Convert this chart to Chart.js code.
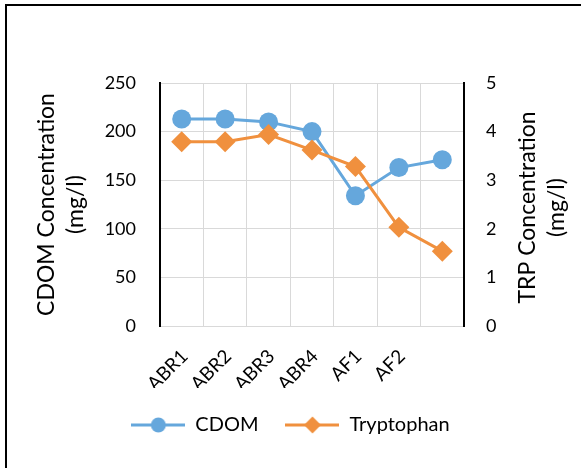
<!DOCTYPE html>
<html>
<head>
<meta charset="utf-8">
<script src="https://cdn.jsdelivr.net/npm/chart.js@4"></script>
<style>
  html, body { margin: 0; padding: 0; background: #fff; }
  #wrap { position: relative; width: 581px; height: 468px; }
  #frame { position: absolute; left: 5px; top: 4px; right: 0; bottom: 0; border-top: 2px solid #000; border-left: 2px solid #000; pointer-events: none; }
</style>
</head>
<body>
<div id="wrap">
  <canvas id="chart" width="581" height="468"></canvas>
  <div id="frame"></div>
</div>
<script>
var sites = ['ABR1', 'ABR2', 'ABR3', 'ABR4', 'AF1', 'AF2', ''];
var cdom = [213, 213, 210, 200, 134, 163, 171];
var tryptophan = [3.79, 3.79, 3.94, 3.62, 3.28, 2.03, 1.54];
var cdomTicks = [0, 50, 100, 150, 200, 250];
var trpTicks = [0, 1, 2, 3, 4, 5];
var cdomTitle = ['CDOM Concentration', '(mg/l)'];
var trpTitle = ['TRP Concentration', '(mg/l)'];

var BLUE = '#65A7DC';
var ORANGE = '#F0903E';
var GRID = '#d9d9d9';
var FONT = 'Lato';

// line + marker swatch for the legend
function legendSymbol(color, style) {
    var c = document.createElement('canvas');
    c.width = 54; c.height = 20;
    var g = c.getContext('2d');
    g.strokeStyle = color; g.lineWidth = 3;
    g.beginPath(); g.moveTo(0, 10); g.lineTo(54, 10); g.stroke();
    g.fillStyle = color;
    g.beginPath();
    if (style === 'circle') {
        g.arc(27, 10, 7.5, 0, Math.PI * 2);
    } else {
        g.moveTo(18.5, 10); g.lineTo(27, 1.5); g.lineTo(35.5, 10); g.lineTo(27, 18.5); g.closePath();
    }
    g.fill();
    return c;
}
var swatches = [legendSymbol(BLUE, 'circle'), legendSymbol(ORANGE, 'diamond')];

// right axis title reads bottom-to-top like the left one
var rightTitle = {
    id: 'rightTitle',
    afterDraw: function (chart) {
        var s = chart.scales.y1, ctx = chart.ctx;
        ctx.save();
        ctx.font = '23px ' + FONT;
        ctx.fillStyle = '#000';
        ctx.textAlign = 'center';
        ctx.textBaseline = 'middle';
        ctx.translate(s.left + 64, (s.top + s.bottom) / 2 + 3);
        ctx.rotate(-Math.PI / 2);
        ctx.fillText(trpTitle[0], 0, 0);
        ctx.fillText(trpTitle[1], 0, 29);
        ctx.restore();
    }
};

new Chart(document.getElementById('chart'), {
    type: 'line',
    data: {
        labels: sites,
        datasets: [{
            label: 'CDOM',
            data: cdom,
            yAxisID: 'y',
            order: 1,
            borderColor: BLUE,
            backgroundColor: BLUE,
            borderWidth: 3,
            pointStyle: 'circle',
            pointRadius: 9.5,
            pointBorderWidth: 0,
            pointBackgroundColor: BLUE
        }, {
            label: 'Tryptophan',
            data: tryptophan,
            yAxisID: 'y1',
            order: 0,
            borderColor: ORANGE,
            backgroundColor: ORANGE,
            borderWidth: 3,
            pointStyle: 'rectRot',
            pointRadius: 10.5,
            pointBorderWidth: 0,
            pointBackgroundColor: ORANGE
        }]
    },
    options: {
        responsive: false,
        animation: false,
        layout: { padding: { left: 0, right: 0, top: 83, bottom: 23 } },
        plugins: {
            tooltip: { enabled: false },
            legend: {
                position: 'bottom',
                labels: {
                    usePointStyle: true,
                    pointStyleWidth: 54,
                    padding: 27,
                    color: '#000',
                    font: { family: FONT, size: 20 },
                    sort: function (a, b) { return a.datasetIndex - b.datasetIndex; },
                    generateLabels: function (chart) {
                        var items = Chart.defaults.plugins.legend.labels.generateLabels(chart);
                        items.forEach(function (it) { it.pointStyle = swatches[it.datasetIndex]; });
                        return items;
                    }
                }
            }
        },
        scales: {
            x: {
                offset: true,
                afterFit: function (s) { s.height = 62; },
                grid: {
                    offset: true,
                    drawTicks: false,
                    color: function (ctx) {
                        return (ctx.index === 0 || ctx.index === sites.length) ? 'rgba(0,0,0,0)' : GRID;
                    }
                },
                border: { color: GRID, width: 1 },
                ticks: {
                    autoSkip: false,
                    minRotation: 45,
                    maxRotation: 45,
                    padding: 19,
                    labelOffset: 3,
                    color: '#000',
                    font: { family: FONT, size: 19 }
                }
            },
            y: {
                position: 'left',
                min: cdomTicks[0],
                max: cdomTicks[cdomTicks.length - 1],
                afterFit: function (s) { s.width = 160; },
                grid: { color: GRID, drawTicks: false },
                border: { color: '#000', width: 2 },
                ticks: {
                    stepSize: cdomTicks[1] - cdomTicks[0],
                    padding: 24,
                    color: '#000',
                    font: { family: FONT, size: 18 }
                },
                title: {
                    display: true,
                    text: cdomTitle,
                    color: '#000',
                    padding: { top: 32, bottom: 0 },
                    font: { family: FONT, size: 23, lineHeight: 1.25 }
                }
            },
            y1: {
                position: 'right',
                min: trpTicks[0],
                max: trpTicks[trpTicks.length - 1],
                afterFit: function (s) { s.width = 117; },
                grid: { display: false, drawTicks: false },
                border: { color: '#000', width: 2 },
                ticks: {
                    stepSize: trpTicks[1] - trpTicks[0],
                    padding: 22,
                    color: '#000',
                    font: { family: FONT, size: 18 }
                }
            }
        }
    },
    plugins: [rightTitle]
});
</script>
</body>
</html>
